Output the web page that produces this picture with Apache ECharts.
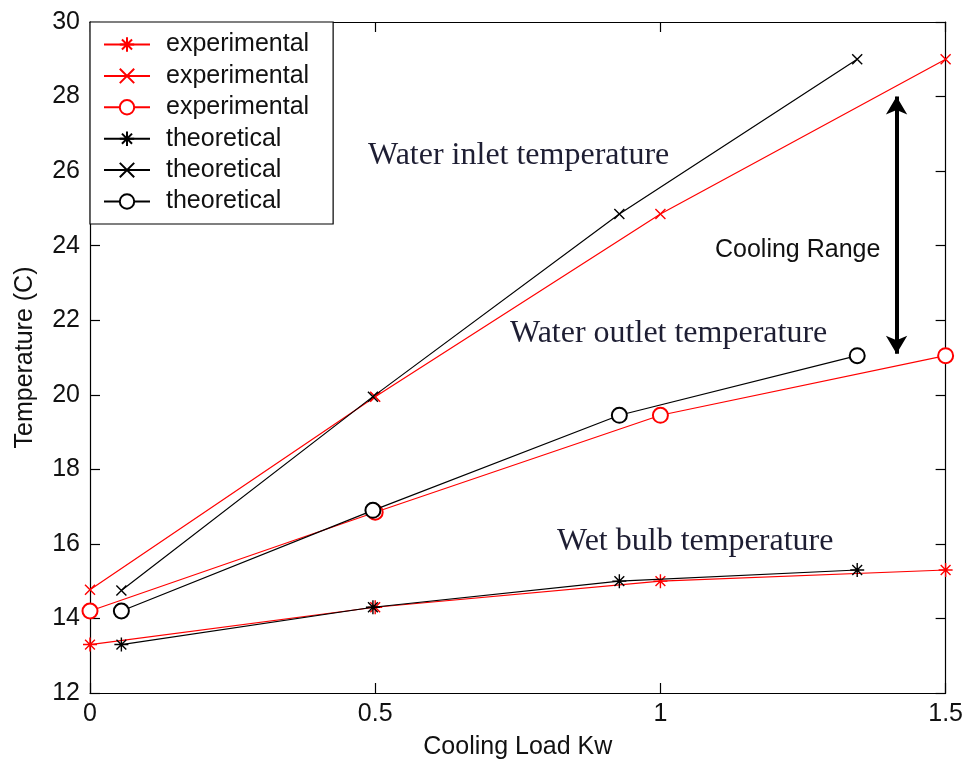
<!DOCTYPE html>
<html>
<head>
<meta charset="utf-8">
<script src="https://cdn.jsdelivr.net/npm/echarts@6/dist/echarts.min.js"></script>
<style>
html,body{margin:0;padding:0;background:#fff;overflow:hidden;}
#chart{width:966px;height:765px;}
</style>
</head>
<body>
<div id="chart"></div>
<script>
// ---- data ----
const expX = [0, 0.5, 1.0, 1.5];
const theoX = [0.055, 0.496, 0.928, 1.345];
const expWetBulb = [13.3, 14.3, 15.0, 15.3];
const expInlet = [14.77, 19.95, 24.85, 29.0];
const expOutlet = [14.2, 16.85, 19.45, 21.05];
const theoWetBulb = [13.3, 14.3, 15.0, 15.3];
const theoInlet = [14.75, 19.95, 24.85, 29.0];
const theoOutlet = [14.2, 16.9, 19.45, 21.05];
const xTicks = [0, 0.5, 1, 1.5];
const yTicks = [12, 14, 16, 18, 20, 22, 24, 26, 28, 30];
const legendNames = ['experimental', 'experimental', 'experimental', 'theoretical', 'theoretical', 'theoretical'];
const rangeArrow = { x: 1.414, yTop: 28.0, yBottom: 21.1 };

const ASTERISK = 'path://M0,-10L0,10M-10,0L10,0M-7,-7L7,7M-7,7L7,-7';
const CROSS = 'path://M-10,-10L10,10M-10,10L10,-10';

function pairs(xs, ys) { return xs.map((x, i) => [x, ys[i]]); }

const SANS = 'Liberation Sans, Arial, sans-serif';
const SERIF = 'Liberation Serif, Times New Roman, serif';

function mkSeries(idx, xs, ys, color, symbol, size) {
  const empty = symbol === 'emptyCircle';
  return {
    name: legendNames[idx] + ' '.repeat(idx),
    type: 'line',
    data: pairs(xs, ys),
    symbol: symbol,
    symbolSize: size,
    showAllSymbol: true,
    clip: false,
    animation: false,
    lineStyle: { color: color, width: 1.2 },
    itemStyle: empty ? { color: color, borderWidth: 1.4 } : { color: color, borderColor: color, borderWidth: 1.4 },
    emphasis: { disabled: true },
    z: idx < 3 ? 2 : 3
  };
}

const series = [
  mkSeries(0, expX, expWetBulb, '#ff0000', ASTERISK, 14),
  mkSeries(1, expX, expInlet, '#ff0000', CROSS, 10),
  mkSeries(2, expX, expOutlet, '#ff0000', 'emptyCircle', 15),
  mkSeries(3, theoX, theoWetBulb, '#000000', ASTERISK, 14),
  mkSeries(4, theoX, theoInlet, '#000000', CROSS, 10),
  mkSeries(5, theoX, theoOutlet, '#000000', 'emptyCircle', 15)
];

// cooling range double arrow
series.push({
  type: 'line',
  data: [],
  silent: true,
  markLine: {
    silent: true,
    animation: false,
    symbol: ['arrow', 'arrow'],
    symbolSize: [16, 18],
    label: { show: false },
    lineStyle: { color: '#000', width: 4, type: 'solid' },
    data: [[
      { coord: [rangeArrow.x, rangeArrow.yBottom] },
      { coord: [rangeArrow.x, rangeArrow.yTop] }
    ]]
  }
});

const chart = echarts.init(document.getElementById('chart'), null, { renderer: 'canvas' });

const axisCommonX = {
  type: 'value', min: 0, max: 1.5, interval: 0.5,
  axisLine: { show: true, onZero: false, lineStyle: { color: '#000', width: 1.2 } },
  axisTick: { show: true, inside: true, length: 10, lineStyle: { color: '#000', width: 1.2 } },
  splitLine: { show: false }
};
const axisCommonY = {
  type: 'value', min: 12, max: 30, interval: 2,
  axisLine: { show: true, onZero: false, lineStyle: { color: '#000', width: 1.2 } },
  axisTick: { show: true, inside: true, length: 10, lineStyle: { color: '#000', width: 1.2 } },
  splitLine: { show: false }
};

chart.setOption({
  backgroundColor: '#fff',
  animation: false,
  grid: { left: 90, right: 18, top: 22, bottom: 68, containLabel: false },
  xAxis: [
    Object.assign({}, axisCommonX, {
      position: 'bottom',
      name: 'Cooling Load Kw', nameLocation: 'middle', nameGap: 42,
      nameTextStyle: { fontFamily: SANS, fontSize: 25, color: '#111' },
      axisLabel: { show: true, margin: 9, fontFamily: SANS, fontSize: 25, color: '#111',
        formatter: v => (xTicks.indexOf(v) >= 0 ? String(v) : '') }
    }),
    Object.assign({}, axisCommonX, { position: 'top', axisLabel: { show: false } })
  ],
  yAxis: [
    Object.assign({}, axisCommonY, {
      position: 'left',
      name: 'Temperature (C)', nameLocation: 'middle', nameGap: 52,
      nameTextStyle: { fontFamily: SANS, fontSize: 25, color: '#111' },
      axisLabel: { show: true, margin: 10, fontFamily: SANS, fontSize: 25, color: '#111',
        formatter: v => (yTicks.indexOf(v) >= 0 ? String(v) : '') }
    }),
    Object.assign({}, axisCommonY, { position: 'right', axisLabel: { show: false } })
  ],
  legend: {
    orient: 'vertical',
    left: 90, top: 22,
    padding: [10, 24, 10, 13],
    itemWidth: 46, itemHeight: 18, itemGap: 6.4,
    backgroundColor: '#fff',
    borderColor: '#000', borderWidth: 1.2, borderRadius: 0,
    selectedMode: false,
    data: series.slice(0, 6).map(s => s.name),
    formatter: n => n.trim(),
    textStyle: { fontFamily: SANS, fontSize: 25, color: '#111', lineHeight: 22, padding: [0, 0, 0, 11] }
  },
  graphic: [
    { type: 'text', left: 368, top: 140, silent: true,
      style: { text: 'Water inlet temperature', font: '32px ' + SERIF, fill: '#1e1e33' } },
    { type: 'text', left: 510, top: 318, silent: true,
      style: { text: 'Water outlet temperature', font: '32px ' + SERIF, fill: '#1e1e33' } },
    { type: 'text', left: 557, top: 526, silent: true,
      style: { text: 'Wet bulb temperature', font: '32px ' + SERIF, fill: '#1e1e33' } },
    { type: 'text', left: 715, top: 238, silent: true,
      style: { text: 'Cooling Range', font: '25px ' + SANS, fill: '#111' } }
  ],
  series: series
});
</script>
</body>
</html>
